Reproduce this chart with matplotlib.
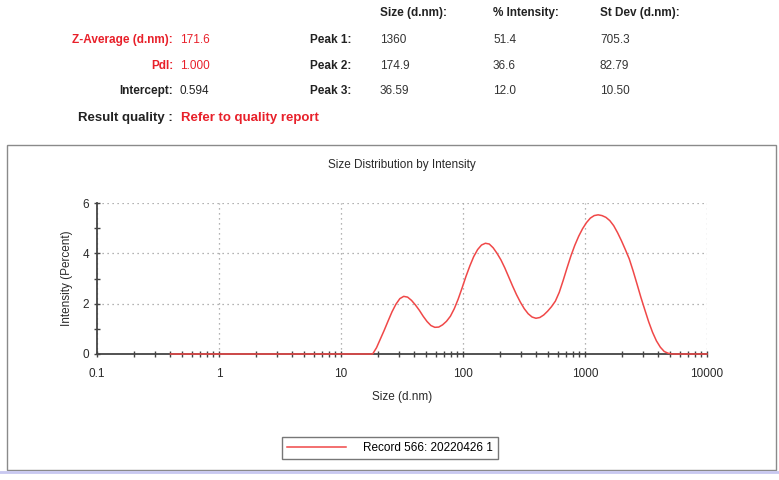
import numpy as np
import matplotlib
matplotlib.use("Agg")
import matplotlib.pyplot as plt
from matplotlib.patches import Rectangle
from matplotlib.lines import Line2D

plt.rcParams['font.family'] = ['Liberation Sans', 'DejaVu Sans']

# size distribution by intensity (d.nm, percent)
sizes = [0.4, 1.0, 5.0, 10.0, 15.69, 18.17, 19.55, 21.04, 22.64, 24.36, 26.21,
         28.21, 30.36, 32.67, 35.16, 37.84, 40.72, 43.82, 47.16, 50.75, 54.61,
         58.77, 63.25, 68.06, 73.24, 78.82, 84.82, 91.28, 98.23, 105.7, 113.8,
         122.4, 131.8, 141.8, 152.6, 164.2, 176.7, 190.1, 204.6, 220.2, 237.0,
         255.0, 274.4, 295.3, 317.8, 342.0, 368.1, 396.1, 426.3, 458.7, 493.6,
         531.2, 571.6, 615.1, 662.0, 712.4, 766.7, 825.0, 887.8, 955.4, 1028,
         1106, 1190, 1281, 1378, 1484, 1597, 1718, 1849, 1990, 2141,
         2305, 2480, 2669, 2872, 3091, 3326, 3580, 3852, 4145, 4461,
         4801, 5166, 5560, 6439, 10000]
intensity = [0, 0, 0, 0, 0, 0.0, 0.25, 0.60, 0.95, 1.32, 1.68,
             1.98, 2.20, 2.29, 2.26, 2.13, 1.95, 1.74, 1.50, 1.29, 1.13,
             1.06, 1.07, 1.16, 1.30, 1.50, 1.80, 2.18, 2.62, 3.08, 3.50,
             3.87, 4.15, 4.33, 4.40, 4.37, 4.22, 4.00, 3.74, 3.42, 3.06,
             2.70, 2.36, 2.06, 1.80, 1.60, 1.47, 1.42, 1.45, 1.55, 1.70,
             1.88, 2.10, 2.45, 2.92, 3.42, 3.90, 4.32, 4.68, 4.98, 5.22,
             5.40, 5.50, 5.53, 5.50, 5.43, 5.30, 5.10, 4.82, 4.50, 4.15,
             3.78, 3.30, 2.78, 2.25, 1.76, 1.28, 0.86, 0.52, 0.27, 0.10,
             0.03, 0.0, 0.0, 0.0, 0.0]

record = "Record 566: 20220426 1"

header = ["Size (d.nm):", "% Intensity:", "St Dev (d.nm):"]
peak_names = ["Peak 1:", "Peak 2:", "Peak 3:"]
peak_size = ["1360", "174.9", "36.59"]
peak_int = ["51.4", "36.6", "12.0"]
peak_sd = ["705.3", "82.79", "10.50"]
left_names = ["Z-Average (d.nm):", "PdI:", "Intercept:"]
left_vals = ["171.6", "1.000", "0.594"]
left_colors = ["#e8202a", "#e8202a", "#222222"]

W, H = 779, 480
fig = plt.figure(figsize=(W / 100, H / 100), dpi=100)

def fx(px):
    return px / W

def fy(py):
    return 1 - py / H

red = "#e8202a"
fs = 8.5

# header block
for txt, x in zip(header, [380, 493, 600]):
    fig.text(fx(x), fy(13), txt, fontsize=fs, fontweight='bold', va='center', color='#222222')
rows_y = [40, 66, 91]
for i in range(3):
    y = fy(rows_y[i])
    fig.text(fx(173), y, left_names[i], fontsize=fs, fontweight='bold',
             ha='right', va='center', color=left_colors[i])
    fig.text(fx(180), y, left_vals[i], fontsize=fs, va='center', color=left_colors[i])
    fig.text(fx(351), y, peak_names[i], fontsize=fs, fontweight='bold',
             ha='right', va='center', color='#222222')
    fig.text(fx(380), y, peak_size[i], fontsize=fs, va='center', color='#333333')
    fig.text(fx(493), y, peak_int[i], fontsize=fs, va='center', color='#333333')
    fig.text(fx(600), y, peak_sd[i], fontsize=fs, va='center', color='#333333')
fig.text(fx(173), fy(118), "Result quality :", fontsize=9.5, fontweight='bold',
         ha='right', va='center', color='#222222')
fig.text(fx(181), fy(118), "Refer to quality report", fontsize=9.5, fontweight='bold',
         va='center', color=red)

# outer frame of the graph panel
fig.patches.append(Rectangle((fx(7), fy(470)), fx(776) - fx(7), fy(145) - fy(470),
                             transform=fig.transFigure, fill=False,
                             edgecolor='#8a8a8a', linewidth=1.0))
fig.lines.append(Line2D([0, 1], [fy(472), fy(472)], transform=fig.transFigure,
                        color='#c8c8f0', linewidth=2))

ax = fig.add_axes([fx(97), fy(354), fx(707) - fx(97), fy(203) - fy(354)])
ax.plot(sizes, intensity, color='#f04848', linewidth=1.1, label=record, zorder=3,
        clip_on=False)
ax.set_xscale('log')
ax.set_xlim(0.1, 10000)
ax.set_ylim(0, 6)
ax.set_xticks([0.1, 1, 10, 100, 1000, 10000])
ax.set_xticklabels(["0.1", "1", "10", "100", "1000", "10000"])
ax.set_yticks([0, 2, 4, 6])
ax.set_yticks([1, 3, 5], minor=True)
ax.grid(True, which='major', linestyle=(0, (1, 3)), color='#9a9a9a', linewidth=0.9)
ax.spines['top'].set_visible(False)
ax.spines['right'].set_visible(False)
for s in ['left', 'bottom']:
    ax.spines[s].set_color('#444444')
    ax.spines[s].set_linewidth(1.3)
ax.tick_params(which='both', direction='inout', length=4, width=1, color='#444444',
               labelsize=fs, labelcolor='#2a2a2a')
ax.tick_params(axis='x', pad=8)
ax.set_xlabel("Size (d.nm)", fontsize=fs, color='#2a2a2a', labelpad=8)
ax.set_ylabel("Intensity (Percent)", fontsize=fs, color='#2a2a2a', labelpad=7)
ax.set_title("Size Distribution by Intensity", fontsize=fs, color='#2a2a2a', pad=25)

leg = ax.legend(loc='center', bbox_to_anchor=(fx(390), fy(448)),
                bbox_transform=fig.transFigure, frameon=True, fancybox=False,
                fontsize=fs, handlelength=5, borderpad=0.4, handletextpad=1.5)
leg.get_frame().set_edgecolor('#555555')
leg.get_frame().set_linewidth(1.0)

fig.savefig("out.png", dpi=100)
